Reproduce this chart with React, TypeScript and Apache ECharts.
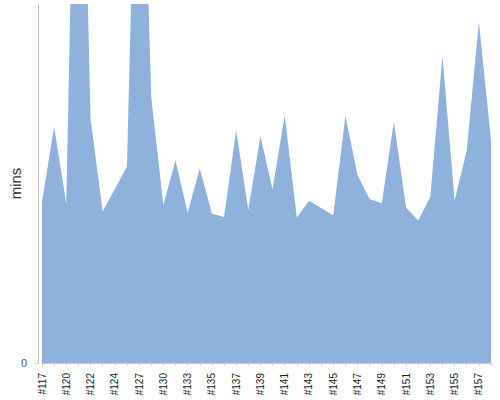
import React, { useEffect, useRef } from 'react';
import * as echarts from 'echarts';

// build numbers along the x axis (every other one is labelled)
const builds = [
    '#117', '#118', '#120', '#121', '#122', '#123', '#124', '#126', '#127', '#129',
    '#130', '#131', '#133', '#134', '#135', '#136', '#137', '#138', '#139', '#140',
    '#141', '#142', '#143', '#144', '#145', '#146', '#147', '#148', '#149', '#150',
    '#151', '#152', '#153', '#154', '#155', '#156', '#157', '#158',
];

// duration of each build, in minutes
const durations = [
    27.0, 39.5, 26.7, 127.5, 40.9, 25.3, 29.1, 32.8, 114.1, 44.5,
    26.4, 33.9, 25.1, 32.5, 25.0, 24.4, 38.9, 25.6, 37.9, 29.0,
    41.4, 24.3, 27.1, 25.9, 24.7, 41.3, 31.4, 27.4, 26.7, 40.3,
    26.0, 23.8, 27.8, 51.3, 27.1, 35.5, 57.0, 37.3,
];

const yMax = 60;
const yTicks = [0];

const FONT = "'Liberation Sans', Arial, sans-serif";

const App: React.FC = () => {
    const chartRef = useRef<HTMLDivElement>(null);

    useEffect(() => {
        if (!chartRef.current) return;
        const chart = echarts.init(chartRef.current, undefined, { renderer: 'svg' });

        const option: any = {
            animation: false,
            textStyle: { fontFamily: FONT },
            grid: { left: 42, right: 9, top: 4, bottom: 37, outerBoundsMode: 'none', containLabel: false },
            xAxis: {
                type: 'category',
                data: builds,
                boundaryGap: false,
                axisLine: { lineStyle: { color: '#cccccc', width: 1 } },
                axisTick: { interval: 0, length: 3, lineStyle: { color: '#cccccc' } },
                axisLabel: {
                    interval: 1,
                    rotate: 90,
                    margin: 10,
                    fontSize: 10,
                    color: '#222',
                    fontFamily: FONT,
                },
            },
            yAxis: {
                type: 'value',
                min: 0,
                max: yMax,
                offset: 4,
                name: 'mins',
                nameLocation: 'middle',
                nameGap: 15,
                nameMoveOverlap: false,
                nameRotate: 90,
                nameTextStyle: { fontSize: 15, color: '#333', fontFamily: FONT },
                splitLine: { show: false },
                axisLine: { show: true, lineStyle: { color: '#c0c0c0', width: 1 } },
                axisTick: { show: true, length: 3, customValues: yTicks, lineStyle: { color: '#c0c0c0' } },
                axisLabel: {
                    customValues: yTicks,
                    margin: 11,
                    fontSize: 11,
                    color: '#555',
                    fontFamily: FONT,
                },
            },
            series: [
                {
                    type: 'line',
                    data: durations,
                    showSymbol: false,
                    clip: true,
                    lineStyle: { color: '#8fb2dc', width: 0 },
                    areaStyle: { color: '#8fb2dc', opacity: 1 },
                },
            ],
        };

        chart.setOption(option);
        return () => chart.dispose();
    }, []);

    return (
        <div
            ref={chartRef}
            style={{ position: 'absolute', left: 0, top: 0, width: 500, height: 400 }}
        />
    );
};

export default App;
